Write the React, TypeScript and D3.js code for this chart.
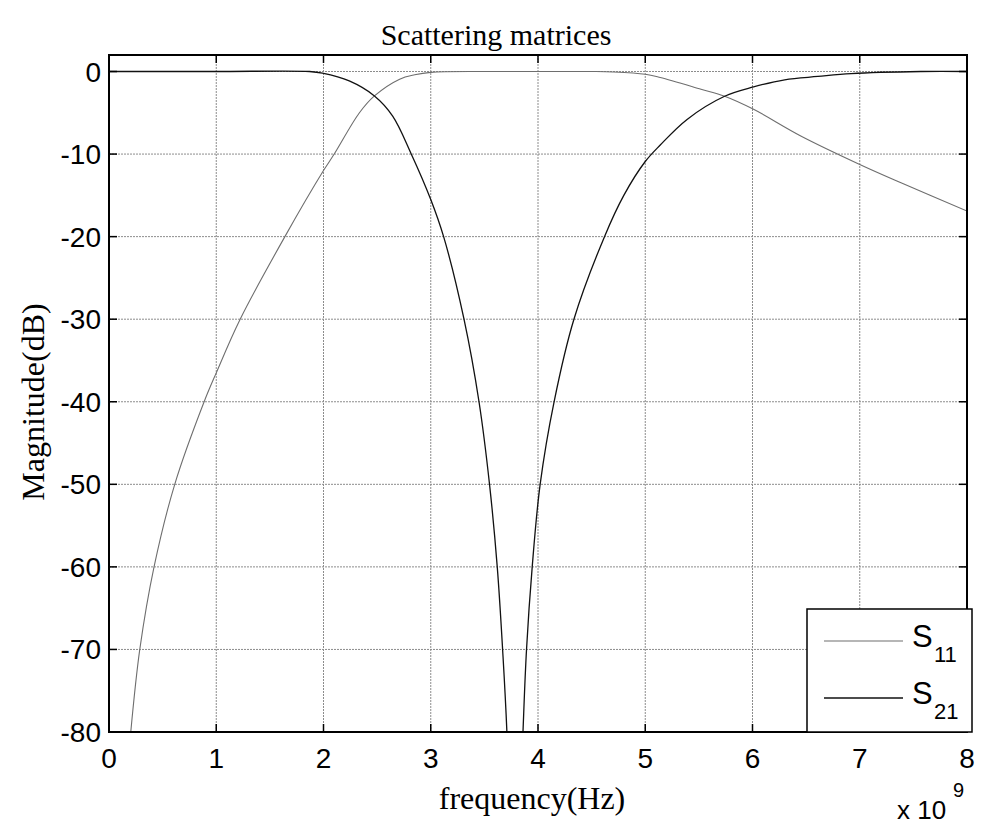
import React from 'react'
import * as d3 from 'd3'

// S11 (gray) and S21 (black) magnitude in dB
const s11Freq = [0.203, 0.287, 0.42, 0.613, 0.887, 1.0, 1.223, 1.64, 2.0, 2.1, 2.335, 2.475, 2.71, 2.85, 3.0, 3.5, 4.0, 4.5, 4.7, 5.0, 5.14, 5.52, 5.74, 6.01, 6.45, 7.0, 7.39, 8.0]
const s11Db = [-80, -70, -60, -50, -40, -36.5, -30, -20, -12.0, -10, -5.0, -2.96, -0.93, -0.4, -0.1, 0, 0, 0, -0.05, -0.33, -0.73, -2.15, -3.0, -4.58, -7.8, -11.25, -13.5, -16.9]

const s21Freq = [0, 1.0, 1.87, 1.99, 2.24, 2.475, 2.645, 2.817, 3.0, 3.12, 3.31, 3.45, 3.548, 3.62, 3.67, 3.71, 3.78, 3.86, 3.893, 3.946, 4.02, 4.15, 4.335, 4.62, 4.8, 5.0, 5.14, 5.39, 5.74, 6.01, 6.3, 6.61, 6.92, 7.57, 8.0]
const s21Db = [0, 0, 0, -0.2, -1.14, -2.96, -5.4, -9.95, -15.5, -20, -30, -40, -50, -60, -70, -80, -110, -80, -70, -60, -50, -40, -30, -20, -15.0, -10.9, -8.9, -5.8, -3.0, -1.87, -1.0, -0.6, -0.25, 0, 0]

const xTicks = [0, 1, 2, 3, 4, 5, 6, 7, 8]
const yTicks = [0, -10, -20, -30, -40, -50, -60, -70, -80]
const seriesNames = ['11', '21']

const W = 981
const H = 827
const left = 109, right = 967, top = 55, bottom = 732

export default function App() {
  const x = d3.scaleLinear().domain([0, 8]).range([left, right])
  const y = d3.scaleLinear().domain([-80, 2]).range([bottom, top])

  const line = d3.line<[number, number]>()
    .x(d => x(d[0]))
    .y(d => y(d[1]))
    .curve(d3.curveCatmullRom.alpha(0.5))

  const s11 = line(s11Freq.map((f, i) => [f, s11Db[i]]) as [number, number][])
  const s21 = line(s21Freq.map((f, i) => [f, s21Db[i]]) as [number, number][])

  const tick = 8
  const sans = 'Arial, "Liberation Sans", Helvetica, sans-serif'
  const serif = '"Times New Roman", "Liberation Serif", serif'

  const lg = { x0: 807, x1: 972, y0: 609, y1: 732 }

  return (
    <svg width={W} height={H} style={{ position: 'absolute', left: 0, top: 0, background: '#fff' }}>
      <defs>
        <clipPath id="plotClip">
          <rect x={left} y={top} width={right - left} height={bottom - top} />
        </clipPath>
      </defs>
      <rect x={0} y={0} width={W} height={H} fill="#fff" />

      {/* grid */}
      <g stroke="#8c8c8c" strokeWidth={1} strokeDasharray="2,1">
        {xTicks.slice(1, -1).map(t => (
          <line key={'gx' + t} x1={x(t)} x2={x(t)} y1={top} y2={bottom} />
        ))}
        {yTicks.slice(0, -1).map(t => (
          <line key={'gy' + t} x1={left} x2={right} y1={y(t)} y2={y(t)} />
        ))}
      </g>

      {/* curves */}
      <g clipPath="url(#plotClip)" fill="none">
        <path d={s11 || ''} stroke="#6e6e6e" strokeWidth={1.1} />
        <path d={s21 || ''} stroke="#111" strokeWidth={1.3} />
      </g>

      {/* axes box and inward ticks */}
      <rect x={left} y={top} width={right - left} height={bottom - top} fill="none" stroke="#000" strokeWidth={2} />
      <g stroke="#000" strokeWidth={1.5}>
        {xTicks.map(t => (
          <g key={'tx' + t}>
            <line x1={x(t)} x2={x(t)} y1={bottom} y2={bottom - tick} />
            <line x1={x(t)} x2={x(t)} y1={top} y2={top + tick} />
          </g>
        ))}
        {yTicks.map(t => (
          <g key={'ty' + t}>
            <line x1={left} x2={left + tick} y1={y(t)} y2={y(t)} />
            <line x1={right} x2={right - tick} y1={y(t)} y2={y(t)} />
          </g>
        ))}
      </g>

      {/* tick labels */}
      <g fontFamily={sans} fontSize={28} fill="#000">
        {xTicks.map(t => (
          <text key={'lx' + t} x={x(t)} y={768} textAnchor="middle">{t}</text>
        ))}
        {yTicks.map(t => (
          <text key={'ly' + t} x={101} y={y(t) + 10} textAnchor="end">{t}</text>
        ))}
      </g>

      {/* exponent */}
      <g fontFamily={sans} fill="#000">
        <text x={897} y={819} fontSize={26}>x 10</text>
        <text x={953} y={797} fontSize={20}>9</text>
      </g>

      {/* titles */}
      <text x={496} y={45} textAnchor="middle" fontFamily={serif} fontSize={30}>Scattering matrices</text>
      <text x={532} y={809} textAnchor="middle" fontFamily={serif} fontSize={32}>frequency(Hz)</text>
      <text transform={`translate(44, 402) rotate(-90)`} textAnchor="middle" fontFamily={serif} fontSize={32}>Magnitude(dB)</text>

      {/* legend */}
      <rect x={lg.x0} y={lg.y0} width={lg.x1 - lg.x0} height={lg.y1 - lg.y0} fill="#fff" stroke="#000" strokeWidth={1.5} />
      {seriesNames.map((n, i) => {
        const ly = i === 0 ? 641 : 698
        return (
          <g key={n}>
            <line x1={824} x2={903} y1={ly} y2={ly} stroke={i === 0 ? '#6e6e6e' : '#111'} strokeWidth={i === 0 ? 1.1 : 1.3} />
            <text x={912} y={ly + 6} fontFamily={sans} fontSize={31}>S</text>
            <text x={934} y={ly + 21} fontFamily={sans} fontSize={22}>{n}</text>
          </g>
        )
      })}
    </svg>
  )
}
